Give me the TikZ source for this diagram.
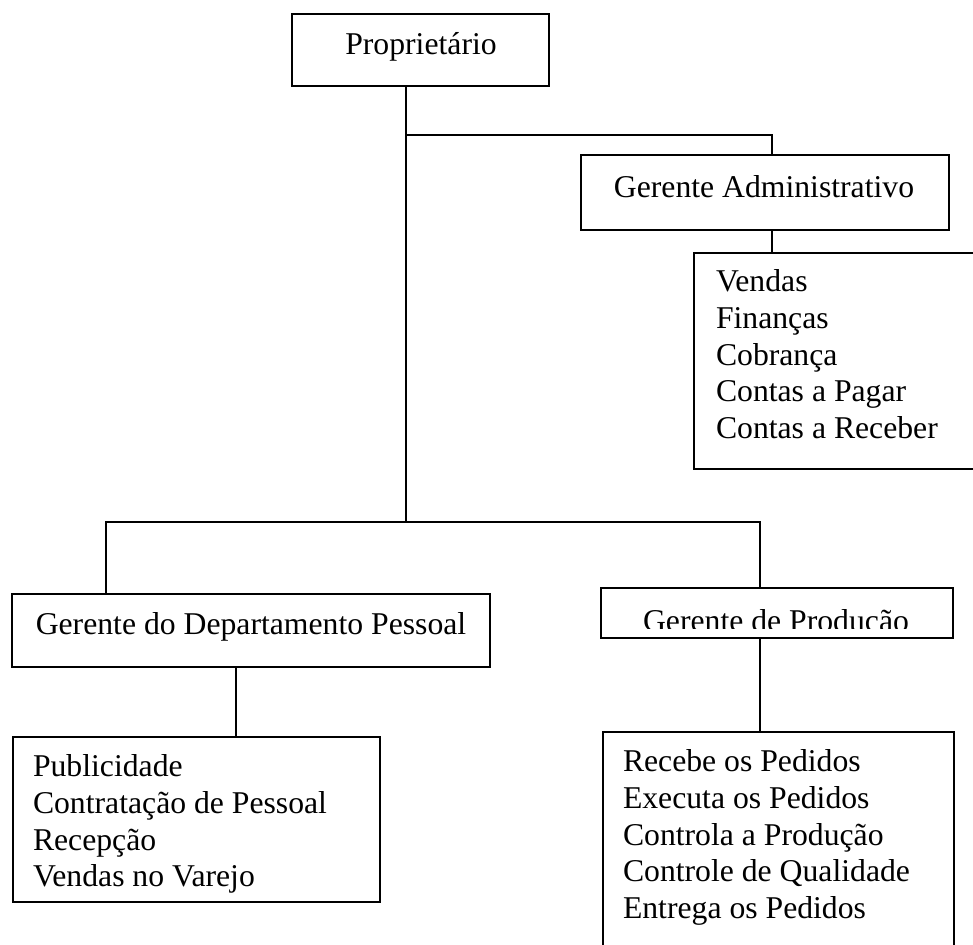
\documentclass[tikz,border=0pt]{standalone}
\usepackage{fontspec}
\setmainfont{Liberation Serif}
\begin{document}
\begin{tikzpicture}[x=1pt,y=-1pt,
  box/.style={draw=black, line width=2.7pt, rectangle, inner sep=0pt, outer sep=0pt, anchor=north west},
  link/.style={draw=black, line width=2.2pt},
  lbl/.style={inner sep=0pt, outer sep=0pt, font=\fontsize{31.7pt}{36.7pt}\selectfont},
  item/.style={lbl, anchor=base west}]

% page area
\useasboundingbox (0,0) rectangle (973,944);
\fill[white] (0,0) rectangle (973,944);

\begin{scope}
\clip (0,0) rectangle (973,944);

% boxes
\node[box, minimum width=257pt, minimum height=72pt] (prop) at (292,14) {};
\node[box, minimum width=368pt, minimum height=75pt] (ga) at (581,155) {};
\node[box, minimum width=300pt, minimum height=216pt] (admList) at (694,253) {};
\node[box, minimum width=478pt, minimum height=73pt] (pes) at (12,594) {};
\node[box, minimum width=367pt, minimum height=165pt] (pubList) at (13,737) {};
\node[box, minimum width=352pt, minimum height=50pt] (gp) at (601,588) {};
\node[box, minimum width=351pt, minimum height=240pt] (prodList) at (603,732) {};

% junction points and connector columns
\coordinate (jTop) at (406,135);
\coordinate (jLow) at (406,522);
\coordinate (xAdm) at (772,0);
\coordinate (xPes) at (106,0);
\coordinate (xPesList) at (236,0);
\coordinate (xProd) at (760,0);

% connectors
\draw[link] (prop.south -| jTop) -- (jLow);
\draw[link] (jTop) -| (ga.north -| xAdm);
\draw[link] (ga.south -| xAdm) -- (admList.north -| xAdm);
\draw[link] (pes.north -| xPes) |- (jLow) -| (gp.north -| xProd);
\draw[link] (pes.south -| xPesList) -- (pubList.north -| xPesList);
\draw[link] (gp.south -| xProd) -- (prodList.north -| xProd);

% titles
\node[lbl, anchor=base] (propT) at (421,55) {Proprietário};
\node[lbl, anchor=base] (gaT) at (764,197) {Gerente Administrativo};
\node[lbl, anchor=base] (pesT) at (251,634) {Gerente do Departamento Pessoal};
\begin{scope}
  \clip (601,588) rectangle (953,628);
  \node[lbl, anchor=base] (gpT) at (776,631) {Gerente de Produção};
\end{scope}

% administrative list
\node[item] (adm1) at (716,291.7) {Vendas};
\node[item] (adm2) at (716,328.4) {Finanças};
\node[item] (adm3) at (716,365.1) {Cobrança};
\node[item] (adm4) at (716,401.8) {Contas a Pagar};
\node[item] (adm5) at (716,438.5) {Contas a Receber};

% personnel list
\node[item] (pes1) at (33,776.7) {Publicidade};
\node[item] (pes2) at (33,813.4) {Contratação de Pessoal};
\node[item] (pes3) at (33,850.1) {Recepção};
\node[item] (pes4) at (33,886.8) {Vendas no Varejo};

% production list
\node[item] (prd1) at (623,771.7) {Recebe os Pedidos};
\node[item] (prd2) at (623,808.4) {Executa os Pedidos};
\node[item] (prd3) at (623,845.1) {Controla a Produção};
\node[item] (prd4) at (623,881.8) {Controle de Qualidade};
\node[item] (prd5) at (623,918.5) {Entrega os Pedidos};
\end{scope}
\end{tikzpicture}
\end{document}
